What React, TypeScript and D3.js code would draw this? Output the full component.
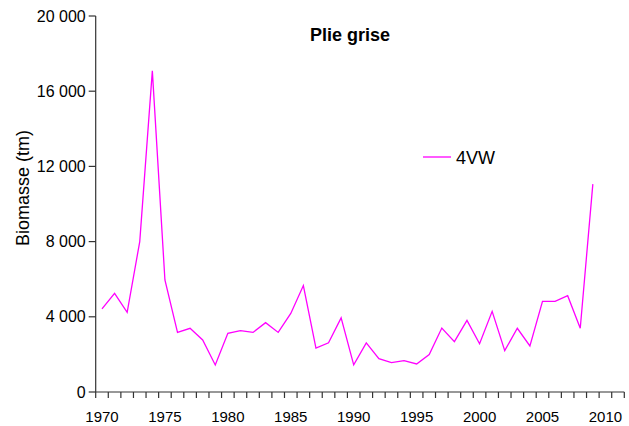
import React from "react";
import * as d3 from "d3";

const years = d3.range(1970, 2012);
const dataYears = d3.range(1970, 2010);
const biomass = [
  4420, 5250, 4240, 8000, 17080, 5960, 3170, 3390, 2770, 1440,
  3120, 3260, 3170, 3690, 3170, 4180, 5660, 2340, 2620, 3940,
  1440, 2610, 1770, 1560, 1670, 1490, 1990, 3400, 2680, 3810,
  2570, 4290, 2200, 3390, 2450, 4820, 4820, 5120, 3390, 11060,
];
const yTicks = [0, 4000, 8000, 12000, 16000, 20000];
const labelYears = [1970, 1975, 1980, 1985, 1990, 1995, 2000, 2005, 2010];

const W = 629;
const H = 426;
const left = 95.7;
const right = 624.3;
const top = 16;
const bottom = 392;
const axisColor = "#333";
const font = "Liberation Sans, Arial, sans-serif";

const fmt = d3.formatLocale({
  decimal: ",",
  thousands: " ",
  grouping: [3],
  currency: ["", ""],
}).format(",");

const App = () => {
  const x = d3.scaleBand<number>().domain(years).range([left, right]).padding(0);
  const y = d3.scaleLinear().domain([0, 20000]).range([bottom, top]);
  const cx = (yr: number) => (x(yr) as number) + x.bandwidth() / 2;

  const line = d3
    .line<number>()
    .x((d, i) => cx(dataYears[i]))
    .y((d) => y(d));

  return (
    <svg
      width={W}
      height={H}
      style={{ position: "absolute", left: 0, top: 0, background: "#fff" }}
      fontFamily={font}
    >
      <rect width={W} height={H} fill="#fff" />
      {/* y axis */}
      <line x1={left} x2={left} y1={top} y2={bottom} stroke={axisColor} strokeWidth={1.2} />
      {yTicks.map((t) => (
        <g key={t}>
          <line x1={left - 7} x2={left} y1={y(t)} y2={y(t)} stroke={axisColor} strokeWidth={1.2} />
          <text x={left - 10} y={y(t)} dy="0.35em" textAnchor="end" fontSize={16} fill="#000">
            {fmt(t)}
          </text>
        </g>
      ))}
      {/* x axis */}
      <line x1={left} x2={right} y1={bottom} y2={bottom} stroke={axisColor} strokeWidth={1.2} />
      {years.map((yr) => (
        <line
          key={yr}
          x1={x(yr) as number}
          x2={x(yr) as number}
          y1={bottom}
          y2={bottom + 6}
          stroke={axisColor}
          strokeWidth={1.2}
        />
      ))}
      <line x1={right} x2={right} y1={bottom} y2={bottom + 6} stroke={axisColor} strokeWidth={1.2} />
      {labelYears.map((yr) => (
        <text key={yr} x={cx(yr)} y={422} textAnchor="middle" fontSize={15} fill="#000">
          {yr}
        </text>
      ))}
      {/* y label */}
      <text
        transform={`translate(29,${(top + bottom) / 2 - 16}) rotate(-90)`}
        textAnchor="middle"
        fontSize={18}
        fill="#000"
      >
        Biomasse (tm)
      </text>
      {/* title */}
      <text x={350} y={41} textAnchor="middle" fontSize={18} fontWeight="bold" fill="#000">
        Plie grise
      </text>
      {/* series */}
      <path d={line(biomass) || ""} fill="none" stroke="#ff00ff" strokeWidth={1.3} />
      {/* legend */}
      <line x1={423} x2={451} y1={157} y2={157} stroke="#ff00ff" strokeWidth={1.3} />
      <text x={456} y={164} fontSize={18} fill="#000">
        4VW
      </text>
    </svg>
  );
};

export default App;
